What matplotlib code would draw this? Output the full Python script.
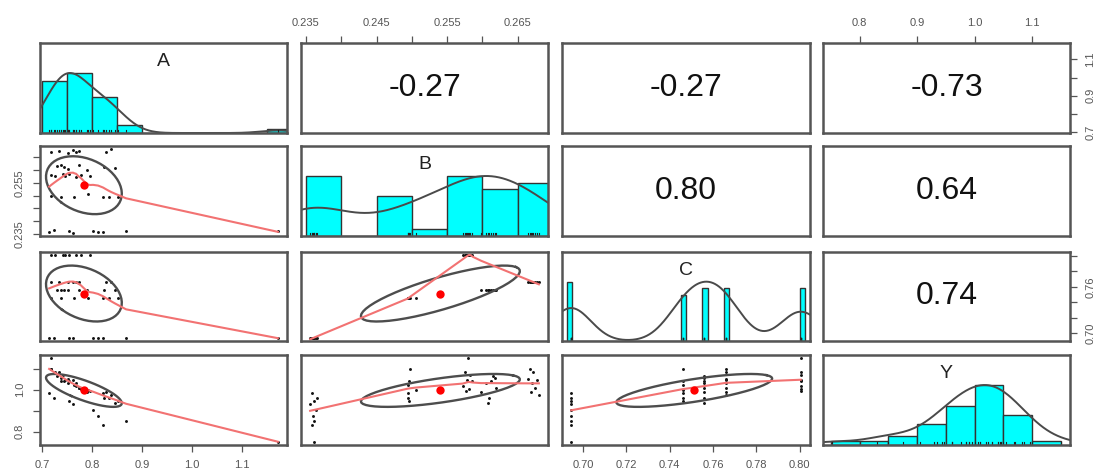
import numpy as np
import matplotlib.pyplot as plt

plt.rcParams['font.family'] = ['Liberation Sans', 'DejaVu Sans']

# 40 observations, grouped by the level of C
A = [0.714, 0.724, 0.754, 0.762, 0.802, 0.812, 0.822, 0.868, 1.172,
     0.718, 0.738, 0.764, 0.792, 0.822, 0.834, 0.852,
     0.730, 0.737, 0.744, 0.752, 0.773, 0.790, 0.823, 0.846,
     0.718, 0.734, 0.752, 0.762, 0.768, 0.774, 0.828, 0.838,
     0.718, 0.726, 0.741, 0.746, 0.754, 0.767, 0.777, 0.796]
B = [0.2358, 0.2366, 0.2362, 0.2356, 0.2364, 0.2360, 0.2358, 0.2362, 0.2361,
     0.2497, 0.2496, 0.2495, 0.2506, 0.2495, 0.2494, 0.2496,
     0.2615, 0.2618, 0.2612, 0.2605, 0.2620, 0.2598, 0.2610, 0.2608,
     0.2668, 0.2672, 0.2665, 0.2678, 0.2670, 0.2675, 0.2669, 0.2680,
     0.2580, 0.2575, 0.2583, 0.2578, 0.2586, 0.2572, 0.2581, 0.2577]
C = [0.6945, 0.6945, 0.6945, 0.6945, 0.6945, 0.6945, 0.6945, 0.6945, 0.6945,
     0.746, 0.746, 0.746, 0.746, 0.746, 0.746, 0.746,
     0.756, 0.756, 0.756, 0.756, 0.756, 0.756, 0.756, 0.756,
     0.766, 0.766, 0.766, 0.766, 0.766, 0.766, 0.766, 0.766,
     0.8005, 0.8005, 0.8005, 0.8005, 0.8005, 0.8005, 0.8005, 0.8005]
Y = [0.985, 0.961, 0.944, 0.930, 0.905, 0.875, 0.830, 0.850, 0.752,
     1.099, 1.044, 1.024, 1.000, 0.985, 0.961, 0.947,
     1.068, 1.055, 1.040, 1.030, 1.010, 0.990, 0.960, 0.935,
     1.097, 1.085, 1.049, 1.045, 1.030, 1.010, 0.990, 0.976,
     1.150, 1.083, 1.070, 1.045, 1.040, 1.020, 1.005, 0.995]

names = ['A', 'B', 'C', 'Y']
# upper panels: (0,1) (0,2) (0,3) (1,2) (1,3) (2,3)
cor_text = ['-0.27', '-0.27', '-0.73', '0.80', '0.64', '0.74']

A_bins = [0.70, 0.75, 0.80, 0.85, 0.90, 0.95, 1.00, 1.05, 1.10, 1.15, 1.20]
B_bins = [0.235, 0.240, 0.245, 0.250, 0.255, 0.260, 0.265, 0.270]
C_bins = list(0.6925 + 0.0025 * np.arange(46))
Y_bins = [0.75, 0.80, 0.85, 0.90, 0.95, 1.00, 1.05, 1.10, 1.1501]

A_ticks = [0.7, 0.8, 0.9, 1.0, 1.1]
B_ticks = [0.235, 0.240, 0.245, 0.250, 0.255, 0.260, 0.265]
C_ticks = [0.70, 0.72, 0.74, 0.76, 0.78, 0.80]
Y_ticks = [0.8, 0.9, 1.0, 1.1]


def lowess(x, y, f=2/3, iters=3):
    o = np.argsort(x, kind='stable')
    x = x[o]; y = y[o]
    n = len(x)
    ns = max(2, min(n, int(f * n + 1e-7)))
    rw = np.ones(n)
    ys = y.copy()
    for it in range(iters + 1):
        for i in range(n):
            d = np.abs(x - x[i])
            h = np.sort(d)[ns - 1]
            if h > 0:
                u = d / h
                w = np.where(u < 0.999, (1 - u**3)**3, 0.0)
                w[u <= 0.001] = 1.0
            else:
                w = (d == 0).astype(float)
            w = w * rw
            if w.sum() <= 0:
                ys[i] = y[i]
                continue
            w = w / w.sum()
            a = np.sum(w * x)
            b = np.sum(w * (x - a)**2)
            if h > 0 and np.sqrt(b) > 0.001 * (x[-1] - x[0]):
                w = w * (1 + (x[i] - a) * (x - a) / b)
            ys[i] = np.sum(w * y)
        if it == iters:
            break
        res = y - ys
        cmad = 6 * np.median(np.abs(res))
        if cmad < 1e-7:
            break
        u = np.abs(res) / cmad
        rw = np.where(u < 0.999, (1 - u**2)**2, 0.0)
        rw[u <= 0.001] = 1.0
    return x, ys


def cor_ellipse(x, y, seg=51):
    r = np.corrcoef(x, y)[0, 1]
    t = np.linspace(0, 2*np.pi, seg + 1)
    circ = np.column_stack([np.cos(t), np.sin(t)])
    th = np.sign(r) / np.sqrt(2) if abs(r) > 0 else 1 / np.sqrt(2)
    shape = np.diag([np.sqrt(1 + r), np.sqrt(1 - r)]) @ np.array([[th, th], [-th, th]])
    e = circ @ shape
    return e[:, 0] * x.std(ddof=1) + x.mean(), e[:, 1] * y.std(ddof=1) + y.mean()


def density(v):
    q75, q25 = np.percentile(v, [75, 25])
    bw = 1.06 * min(v.std(ddof=1), (q75 - q25) / 1.34) * len(v)**-0.2 * 1.2
    g = np.linspace(v.min() - 3*bw, v.max() + 3*bw, 512)
    d = np.exp(-0.5 * ((g[:, None] - v[None, :]) / bw)**2).sum(1)
    return g, d / d.max()


data = [np.array(A), np.array(B), np.array(C), np.array(Y)]
bins = [A_bins, B_bins, C_bins, Y_bins]
lims = []
for v in data:
    rg = v.max() - v.min()
    lims.append((v.min() - 0.04*rg, v.max() + 0.04*rg))

W, H = 1098, 474
fig = plt.figure(figsize=(W/100, H/100), dpi=100)
col_px = [(40, 287), (301, 548), (562, 810), (823, 1070)]
row_px = [(43, 133), (146, 236), (252, 341), (355, 445)]
frame = '#555555'

axs = {}
k = 0
for i in range(4):
    for j in range(4):
        l, r = col_px[j]
        t, b = row_px[i]
        ax = fig.add_axes([l/W, 1 - b/H, (r - l)/W, (b - t)/H])
        axs[(i, j)] = ax
        ax.set_xlim(lims[j])
        for s in ax.spines.values():
            s.set_color(frame)
            s.set_linewidth(1.8)
        ax.set_xticks([])
        ax.set_yticks([])
        x, y = data[j], data[i]
        if i == j:
            cnt, edges = np.histogram(x, bins=bins[i])
            hgt = cnt / cnt.max()
            ax.bar(edges[:-1], hgt, width=np.diff(edges), align='edge',
                   color='#00ffff', edgecolor='#333333', linewidth=1.0)
            g, d = density(x)
            ax.plot(g, d, color='#4a4a4a', lw=1.4)
            for xv in x:
                ax.plot([xv, xv], [0, 0.045], color='#222222', lw=0.8)
            ax.set_ylim(0, 1.5)
            ax.text(0.5, 0.79, names[i], transform=ax.transAxes, ha='center',
                    va='center', fontsize=14, color='#222222')
        elif i < j:
            ax.set_ylim(lims[i])
            ax.text(0.5, 0.5, cor_text[k], transform=ax.transAxes, ha='center',
                    va='center', fontsize=23, color='#111111')
            k += 1
        else:
            ax.set_ylim(lims[i])
            ax.plot(x, y, 'o', ms=2.1, color='#111111', mec='none')
            ex, ey = cor_ellipse(x, y)
            ax.plot(ex, ey, color='#4d4d4d', lw=1.7)
            lx, ly = lowess(x, y)
            ax.plot(lx, ly, color='#f27272', lw=1.5)
            ax.plot(x.mean(), y.mean(), 'o', ms=6, color='red', mec='none')

tick_kw = dict(colors='#555555', labelcolor='#555555', length=5, width=0.9,
               labelsize=8, direction='out')


def fmt(v, nd):
    return ('%.' + str(nd) + 'f') % v


def tick_labels(ticks, show, nd):
    return [fmt(t, nd) if any(abs(t - s) < 1e-9 for s in show) else '' for t in ticks]


# bottom axes
for (i, j), ticks, show, nd in [((3, 0), A_ticks, A_ticks, 1),
                                ((3, 2), C_ticks, C_ticks, 2)]:
    ax = axs[(i, j)]
    ax.set_xticks(ticks, tick_labels(ticks, show, nd))
    ax.tick_params(axis='x', bottom=True, labelbottom=True, pad=6, **tick_kw)

# top axes
for (i, j), ticks, show, nd in [((0, 1), B_ticks, [0.235, 0.245, 0.255, 0.265], 3),
                                ((0, 3), Y_ticks, Y_ticks, 1)]:
    ax = axs[(i, j)]
    ax.set_xticks(ticks, tick_labels(ticks, show, nd))
    ax.tick_params(axis='x', top=True, labeltop=True, bottom=False,
                   labelbottom=False, pad=6, **tick_kw)

# left axes
for (i, j), ticks, show, nd in [((1, 0), B_ticks, [0.235, 0.255], 3),
                                ((3, 0), Y_ticks, [0.8, 1.0], 1)]:
    ax = axs[(i, j)]
    ax.set_yticks(ticks, tick_labels(ticks, show, nd))
    ax.tick_params(axis='y', left=True, labelleft=True, labelrotation=90, pad=6, **tick_kw)
    for lab in ax.get_yticklabels():
        lab.set_va('center')

# right axes
for (i, j), ticks, show, nd in [((0, 3), A_ticks, [0.7, 0.9, 1.1], 1),
                                ((2, 3), C_ticks, [0.70, 0.76], 2)]:
    ax = axs[(i, j)]
    ax.set_yticks(ticks, tick_labels(ticks, show, nd))
    ax.tick_params(axis='y', right=True, labelright=True, left=False,
                   labelleft=False, labelrotation=90, pad=6, **tick_kw)
    for lab in ax.get_yticklabels():
        lab.set_va('center')

fig.savefig('out.png', dpi=100)
